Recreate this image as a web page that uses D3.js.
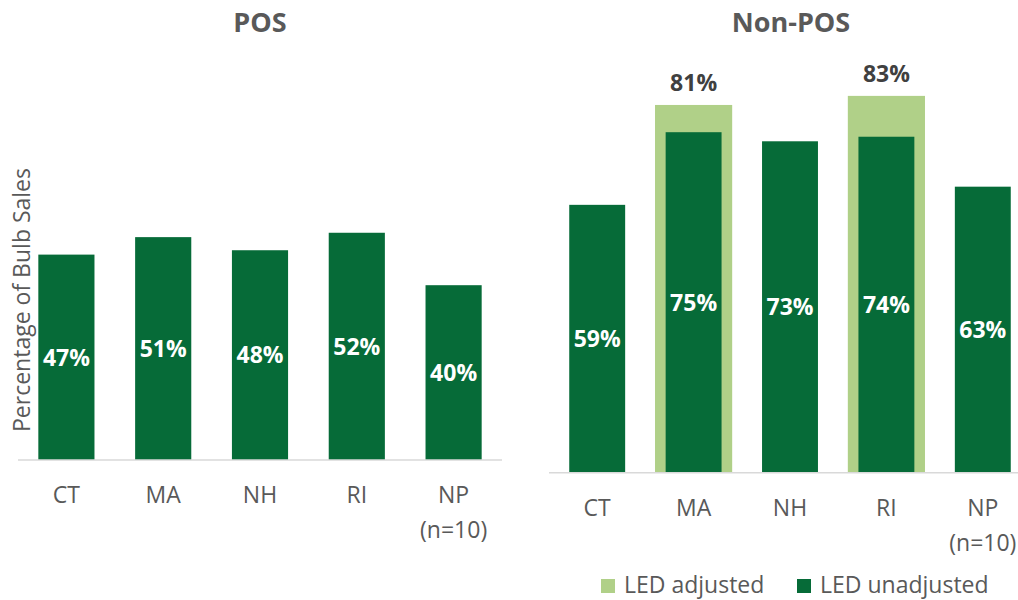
<!DOCTYPE html>
<html>
<head>
<meta charset="utf-8">
<script src="https://cdn.jsdelivr.net/npm/d3@7"></script>
<style>
  body { margin: 0; background: #fff; }
  svg { display: block; font-family: "Open Sans", sans-serif; }
</style>
</head>
<body>
<svg width="1018" height="600"></svg>
<script>
// the data
var categories = ["CT", "MA", "NH", "RI", "NP"];
var categoryLines = [["CT"], ["MA"], ["NH"], ["RI"], ["NP", "(n=10)"]];
var posValues = [0.47, 0.51, 0.48, 0.52, 0.40];
var nonPosUnadjusted = [0.59, 0.75, 0.73, 0.74, 0.63];
var nonPosAdjusted = [null, 0.81, null, 0.83, null];
var legendLabels = ["LED adjusted", "LED unadjusted"];

var darkGreen = "#066b38",
    lightGreen = "#b0d088",
    textGrey = "#595959",
    axisGrey = "#d9d9d9";

var svg = d3.select("svg");
var fmt = d3.format(".0%");

// draw one panel
function drawPanel(opts) {
  var g = svg.append("g");

  var x = d3.scaleBand()
      .domain(categories)
      .range(opts.xRange)
      .paddingInner(0.42)
      .paddingOuter(0.21);

  var y = d3.scaleLinear()
      .domain([0, 1])
      .range([opts.base, opts.base - opts.pxPerUnit]);

  // title
  g.append("text")
      .attr("x", opts.titleX)
      .attr("y", 32)
      .attr("text-anchor", "middle")
      .attr("font-size", "27px")
      .attr("font-weight", "bold")
      .attr("fill", textGrey)
      .text(opts.title);

  // adjusted bars behind
  if (opts.adjusted) {
    var adjData = categories.map(function(c, i) { return {c: c, v: opts.adjusted[i]}; })
        .filter(function(d) { return d.v != null; });
    var wide = x.bandwidth() * 1.38;
    g.append("g").selectAll("rect")
        .data(adjData)
        .enter().append("rect")
        .attr("x", function(d) { return x(d.c) + x.bandwidth() / 2 - wide / 2; })
        .attr("width", wide)
        .attr("y", function(d) { return y(d.v); })
        .attr("height", function(d) { return y(0) - y(d.v); })
        .attr("fill", lightGreen);
    g.append("g").selectAll("text")
        .data(adjData)
        .enter().append("text")
        .attr("x", function(d) { return x(d.c) + x.bandwidth() / 2; })
        .attr("y", function(d) { return y(d.v) - 14; })
        .attr("text-anchor", "middle")
        .attr("font-size", "23px")
        .attr("font-weight", "bold")
        .attr("fill", "#404040")
        .text(function(d) { return fmt(d.v); });
  }

  var data = categories.map(function(c, i) { return {c: c, v: opts.values[i]}; });

  g.append("g").selectAll("rect")
      .data(data)
      .enter().append("rect")
      .attr("x", function(d) { return x(d.c); })
      .attr("width", x.bandwidth())
      .attr("y", function(d) { return y(d.v); })
      .attr("height", function(d) { return y(0) - y(d.v); })
      .attr("fill", darkGreen);

  g.append("g").selectAll("text")
      .data(data)
      .enter().append("text")
      .attr("x", function(d) { return x(d.c) + x.bandwidth() / 2; })
      .attr("y", function(d) { return (y(d.v) + y(0)) / 2; })
      .attr("dy", "0.36em")
      .attr("text-anchor", "middle")
      .attr("font-size", "23px")
      .attr("font-weight", "bold")
      .attr("fill", "#fff")
      .text(function(d) { return fmt(d.v); });

  // x axis
  var axis = g.append("g")
      .attr("transform", "translate(0," + opts.base + ")")
      .call(d3.axisBottom(x).tickSize(0).tickSizeOuter(0));
  axis.select(".domain")
      .attr("stroke", axisGrey)
      .attr("stroke-width", 1.5)
      .attr("d", "M" + opts.xRange[0] + ",0H" + Math.min(opts.xRange[1], 1018));
  axis.selectAll(".tick text").remove();
  axis.selectAll(".tick").append("text")
      .attr("fill", textGrey)
      .attr("font-size", "23px")
      .attr("text-anchor", "middle")
      .attr("font-family", "Open Sans, sans-serif")
      .selectAll("tspan")
      .data(function(d) { return categoryLines[categories.indexOf(d)]; })
      .enter().append("tspan")
      .attr("x", 0)
      .attr("y", function(d, i) { return 35 + i * 35; })
      .attr("dy", "0.36em")
      .text(function(d) { return d; });

  return g;
}

drawPanel({
  title: "POS",
  titleX: 260,
  xRange: [18, 502],
  base: 460,
  pxPerUnit: 437,
  values: posValues
});

drawPanel({
  title: "Non-POS",
  titleX: 791,
  xRange: [549, 1031],
  base: 472.7,
  pxPerUnit: 454,
  values: nonPosUnadjusted,
  adjusted: nonPosAdjusted
});

// y axis label
svg.append("text")
    .attr("transform", "translate(22,300) rotate(-90)")
    .attr("text-anchor", "middle")
    .attr("dy", "0.36em")
    .attr("font-size", "23px")
    .attr("fill", textGrey)
    .text("Percentage of Bulb Sales");

// legend
var legend = svg.append("g").attr("class", "legend");
var legendX = [601, 797];
legendLabels.forEach(function(label, i) {
  var item = legend.append("g")
      .attr("transform", "translate(" + legendX[i] + ",579)");
  item.append("rect")
      .attr("width", 14)
      .attr("height", 14)
      .attr("fill", i === 0 ? lightGreen : darkGreen);
  item.append("text")
      .attr("x", 23)
      .attr("y", 14)
      .attr("font-size", "23px")
      .attr("fill", textGrey)
      .text(label);
});
</script>
</body>
</html>
